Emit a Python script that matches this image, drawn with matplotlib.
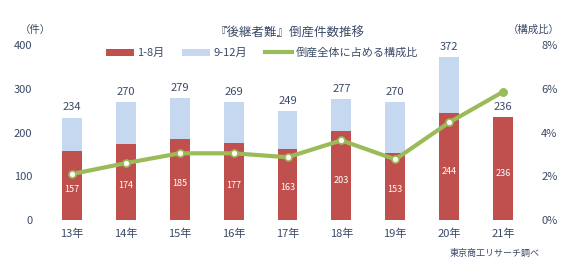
import numpy as np
import matplotlib.pyplot as plt
from matplotlib.lines import Line2D

plt.rcParams['font.family'] = ['Noto Sans CJK JP', 'DejaVu Sans']

years = ['13年', '14年', '15年', '16年', '17年', '18年', '19年', '20年', '21年']
jan_aug = [157, 174, 185, 177, 163, 203, 153, 244, 236]
sep_dec = [77, 96, 94, 92, 86, 74, 117, 128, 0]
totals = [234, 270, 279, 269, 249, 277, 270, 372, 236]
share = [2.1, 2.6, 3.05, 3.05, 2.87, 3.64, 2.77, 4.46, 5.86]

red = '#C0504D'
blue = '#C6D8EF'
green = '#9BBB59'
navy = '#3B4A66'

fig = plt.figure(figsize=(5.74, 2.64), dpi=100)
ax = fig.add_axes([45/574, 1 - 220/264, 485/574, 175/264])
x = np.arange(len(years))
w = 0.37

b1 = ax.bar(x, jan_aug, w, color=red, label='1-8月')
b2 = ax.bar(x, sep_dec, w, bottom=jan_aug, color=blue, label='9-12月')

for i in range(len(years)):
    ax.text(x[i], jan_aug[i] * 0.45, str(jan_aug[i]), ha='center', va='center',
            color='white', fontsize=6.5)
    ax.text(x[i], totals[i] + 12, str(totals[i]), ha='center', va='bottom',
            color=navy, fontsize=8, clip_on=False)

ax.set_xlim(-0.5, len(years) - 0.5)
ax.set_ylim(0, 400)
ax.set_yticks([0, 100, 200, 300, 400])
ax.set_xticks(x)
ax.set_xticklabels(years)
ax.tick_params(length=0, colors=navy, labelsize=8)
ax.tick_params(axis='y', pad=9)
ax.tick_params(axis='x', pad=6)
for s in ax.spines.values():
    s.set_visible(False)

ax2 = ax.twinx()
ax2.plot(x, share, color=green, lw=3, marker='o', ms=5,
         mfc='white', mec=green, mew=1.2, zorder=5)
ax2.plot(x[-1], share[-1], 'o', color=green, ms=5, zorder=6)
ax2.set_ylim(0, 8)
ax2.set_yticks([0, 2, 4, 6, 8])
ax2.set_yticklabels(['0%', '2%', '4%', '6%', '8%'])
ax2.tick_params(length=0, colors=navy, labelsize=8, pad=8)
for s in ax2.spines.values():
    s.set_visible(False)

line = Line2D([], [], color=green, lw=3, label='倒産全体に占める構成比')

fig.text(290/574, 1 - 33/264, '『後継者難』倒産件数推移', ha='center', va='center',
         color=navy, fontsize=9)
fig.text(35/574, 1 - 30/264, '（件）', ha='center', va='center', color=navy, fontsize=7.5)
fig.text(534/574, 1 - 30/264, '（構成比）', ha='center', va='center', color=navy, fontsize=7.5)
fig.text(540/574, 1 - 253/264, '東京商工リサーチ調べ', ha='right', va='center',
         color=navy, fontsize=6.5)

fig.legend(handles=[b1, b2, line], loc='center', bbox_to_anchor=(262/574, 1 - 53/264),
           ncol=3, frameon=False, fontsize=8, handlelength=2.5, handleheight=0.6,
           columnspacing=1.6, handletextpad=0.3, labelcolor=navy)

fig.savefig('out.png', dpi=100)
